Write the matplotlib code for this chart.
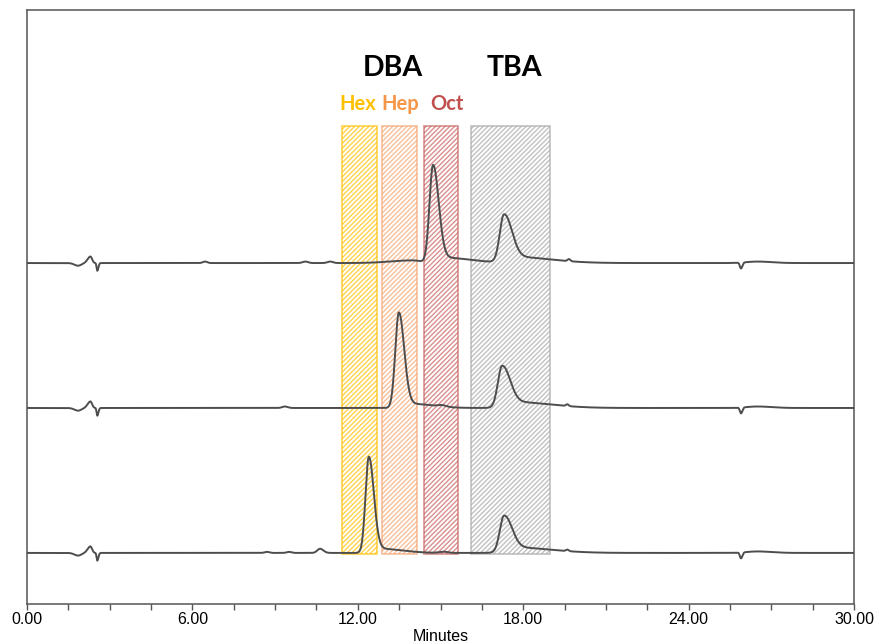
import numpy as np
import matplotlib
matplotlib.use("Agg")
import matplotlib.pyplot as plt
from matplotlib.patches import Rectangle

# ---------------- data ----------------
trace_names = ["Oct", "Hep", "Hex"]           # top, middle, bottom
trace_offsets = [57.4, 33.0, 8.6]              # baseline level of each trace

# peak tables per trace: (retention time [min], height, sigma_left, sigma_right)
peaks_oct = [
    (1.85, -0.45, 0.13, 0.12), (2.30, 1.1, 0.1, 0.06), (2.55, -1.3, 0.025, 0.04),
    (6.46, 0.25, 0.08, 0.08), (10.1, 0.25, 0.1, 0.1), (11.0, 0.25, 0.1, 0.1),
    (14.0, 0.45, 0.8, 0.3),
    (14.73, 16.2, 0.13, 0.2), (15.1, 0.9, 0.25, 1.0),
    (17.30, 7.6, 0.15, 0.28), (17.7, 1.0, 0.35, 1.3),
    (19.66, 0.35, 0.05, 0.05),
    (25.9, -1.0, 0.04, 0.05), (26.5, 0.25, 0.4, 0.5),
]
peaks_hep = [
    (1.85, -0.45, 0.13, 0.12), (2.30, 1.1, 0.1, 0.06), (2.55, -1.3, 0.025, 0.04),
    (9.36, 0.25, 0.1, 0.1),
    (13.49, 15.9, 0.13, 0.19), (13.9, 0.7, 0.25, 0.8),
    (15.05, 0.25, 0.15, 0.15),
    (17.23, 6.6, 0.15, 0.28), (17.65, 1.0, 0.35, 1.3),
    (19.6, 0.3, 0.05, 0.05),
    (25.9, -1.0, 0.04, 0.05), (26.5, 0.25, 0.4, 0.5),
]
peaks_hex = [
    (1.85, -0.45, 0.13, 0.12), (2.30, 1.1, 0.1, 0.06), (2.55, -1.3, 0.025, 0.04),
    (8.7, 0.18, 0.08, 0.08), (9.5, 0.18, 0.08, 0.08), (10.63, 0.7, 0.1, 0.12),
    (12.40, 16.0, 0.12, 0.18), (12.8, 0.7, 0.25, 0.8),
    (15.1, 0.2, 0.15, 0.15),
    (17.30, 5.8, 0.15, 0.28), (17.7, 0.9, 0.35, 1.3),
    (19.6, 0.25, 0.05, 0.05),
    (25.9, -1.0, 0.04, 0.05), (26.5, 0.25, 0.4, 0.5),
]
trace_peaks = [peaks_oct, peaks_hep, peaks_hex]

# highlighted windows
win_labels = ["Hex", "Hep", "Oct", "TBA"]
win_start = [11.43, 12.88, 14.40, 16.10]
win_end = [12.70, 14.15, 15.63, 18.97]
win_colors = ["#FFC000", "#F4A570", "#C8615E", "#A8A8A8"]
label_colors = ["#FFC000", "#F79646", "#C0504D"]
label_x = [12.01, 13.53, 15.24]
group_labels = ["DBA", "TBA"]
group_x = [13.28, 17.67]

xticks = [0, 6, 12, 18, 24, 30]
xtick_labels = ["0.00", "6.00", "12.00", "18.00", "24.00", "30.00"]

# ---------------- drawing ----------------
def asym_peak(t, t0, h, sl, sr):
    s = np.where(t < t0, sl, sr)
    return h * np.exp(-0.5 * ((t - t0) / s) ** 2)

fig = plt.figure(figsize=(8.8, 6.43), dpi=100)
ax = fig.add_axes([27 / 880, 39 / 643, 827 / 880, 594 / 643])

t = np.linspace(0, 30, 6001)

for s, e, c in zip(win_start, win_end, win_colors):
    ax.add_patch(Rectangle((s, 8.4), e - s, 80.5 - 8.4, facecolor="none",
                           edgecolor=c, hatch="///////", lw=1.2, alpha=0.7, zorder=1))

for off, peaks in zip(trace_offsets, trace_peaks):
    y = np.full_like(t, off)
    for p in peaks:
        y = y + asym_peak(t, *p)
    ax.plot(t, y, color="#4d4d4d", lw=1.4, zorder=3)

for lab, x, c in zip(win_labels[:3], label_x, label_colors):
    ax.text(x, 84.2, lab, color=c, fontsize=14.5, fontweight="bold",
            family=["Lato", "DejaVu Sans"], ha="center", va="center")
for lab, x in zip(group_labels, group_x):
    ax.text(x, 90.2, lab, color="black", fontsize=20.5, fontweight="bold",
            family=["Lato", "DejaVu Sans"], ha="center", va="center")

ax.set_xlim(0, 30)
ax.set_ylim(0, 100)
ax.set_yticks([])
ax.set_xticks(xticks)
ax.set_xticks(np.arange(0, 30.01, 1.5), minor=True)
ax.set_xticklabels(xtick_labels)
tick_font = ["Liberation Sans Narrow", "Liberation Sans"]
for lbl in ax.get_xticklabels():
    lbl.set_family(tick_font)
    lbl.set_fontsize(11.5)
ax.tick_params(axis="x", which="both", direction="out", length=4, width=1,
               color="#555555", pad=2)
ax.set_xlabel("Minutes", family=tick_font, fontsize=11.5, labelpad=1)
for sp in ax.spines.values():
    sp.set_color("#555555")
    sp.set_linewidth(1.1)

fig.savefig("out.png", dpi=100)
